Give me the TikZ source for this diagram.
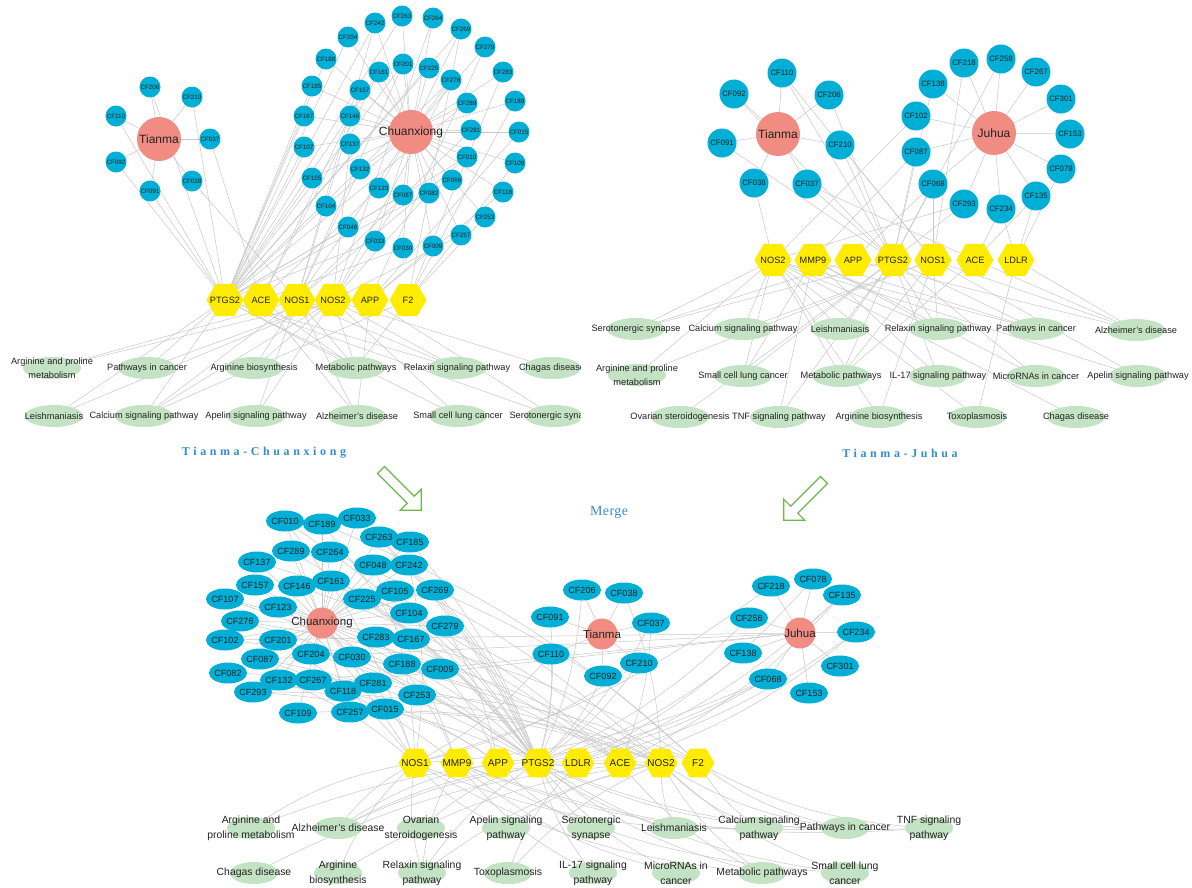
\documentclass[tikz,border=0pt]{standalone}
\usepackage{fontspec}
\setmainfont{Liberation Sans}
\newfontfamily\titlefont[LetterSpace=30]{Liberation Serif}
\newfontfamily\mergefont[LetterSpace=3]{Liberation Serif}
\usetikzlibrary{shapes.geometric}
\pgfdeclarelayer{bg}
\pgfdeclarelayer{edges}
\pgfsetlayers{bg,edges,main}
\definecolor{cfblue}{RGB}{0,174,214}
\definecolor{herbc}{RGB}{240,140,130}
\definecolor{hexy}{RGB}{255,236,0}
\definecolor{pathg}{RGB}{196,227,196}
\definecolor{edgeg}{RGB}{200,200,200}
\definecolor{titleb}{RGB}{55,140,205}
\definecolor{arrowg}{RGB}{105,185,75}
\definecolor{txt}{RGB}{35,35,35}
\begin{document}
\begin{tikzpicture}[x=1pt,y=-1pt,
  edge/.style={edgeg,line width=0.5pt},
  cfa/.style={circle,fill=cfblue,minimum size=21pt,inner sep=0pt,text=txt,font=\fontsize{6.3}{7}\selectfont},
  cfb/.style={circle,fill=cfblue,minimum size=29pt,inner sep=0pt,text=txt,font=\fontsize{7.8}{9}\selectfont},
  cfc/.style={ellipse,fill=cfblue,minimum width=32pt,minimum height=21pt,inner sep=0pt,text=txt,font=\fontsize{9}{10}\selectfont},
  herbA/.style={circle,fill=herbc,minimum size=44pt,inner sep=0pt,
    label={[text=txt,font=\fontsize{12}{13}\selectfont]center:#1}},
  herbC/.style={circle,fill=herbc,minimum size=31pt,inner sep=0pt,
    label={[text=txt,font=\fontsize{11.5}{13}\selectfont]center:#1}},
  hexA/.style={regular polygon,regular polygon sides=6,fill=hexy,minimum size=37pt,inner sep=0pt,
    label={[text=txt,font=\fontsize{9.2}{10}\selectfont]center:#1}},
  hexC/.style={regular polygon,regular polygon sides=6,fill=hexy,minimum size=33pt,inner sep=0pt,
    label={[text=txt,font=\fontsize{10}{11}\selectfont]center:#1}},
  pwA/.style={ellipse,fill=pathg,minimum width=58pt,minimum height=22pt,inner sep=0pt,
    label={[text=txt,align=center,font=\fontsize{9.2}{13.5}\selectfont]center:#1}},
  pwC/.style={ellipse,fill=pathg,minimum width=48pt,minimum height=22pt,inner sep=0pt,
    label={[text=txt,align=center,font=\fontsize{10.4}{15}\selectfont]center:#1}},
  ttl/.style={text=titleb,font=\titlefont\bfseries\fontsize{12}{14}\selectfont},
  blockarrow/.style={draw=arrowg,line width=1.2pt,fill=white,line join=miter}
]
\begin{pgfonlayer}{bg}
\fill[white] (0,0) rectangle (1192,887);
\end{pgfonlayer}
\useasboundingbox (0,0) rectangle (1192,887);

%% ================= TOP LEFT: Tianma-Chuanxiong =================
\node[herbA=Tianma] (aTianma) at (159,139) {};
\foreach \n/\x/\y in {206/150/87, 210/192/97, 110/116/116, 037/210/139, 092/116/162, 038/192/181, 091/150/191}
  \node[cfa] (aCF\n) at (\x,\y) {CF\n};
\node[herbA=Chuanxiong] (aChuan) at (411,132) {};
\foreach \n/\x/\y in {242/375/23, 263/402/16, 264/433/18, 269/461/29, 204/348/37, 279/485/47, 188/326/59, 201/403/64, 225/429/68, 161/379/72, 283/503/72, 276/451/80, 185/312/86, 157/360/90, 289/467/103, 189/515/101, 167/304/116, 146/350/116, 281/471/130, 015/519/132, 107/304/147, 137/350/144, 010/467/157, 109/515/163, 132/360/169, 105/312/178, 068/452/180, 123/379/188, 082/429/193, 087/403/195, 118/503/192, 104/326/206, 253/485/217, 048/348/227, 257/461/235, 033/375/241, 030/403/248, 009/433/246}
  \node[cfa] (aCF\n) at (\x,\y) {CF\n};
\foreach \h/\x in {PTGS2/225, ACE/261, NOS1/297, NOS2/333, APP/370, F2/408}
  \node[hexA=\h] (a\h) at (\x,300) {};
\begin{scope}
\clip (0,330) rectangle (580,440);
\node[pwA={Arginine and proline\\metabolism}] (aArg) at (52,368) {};
\node[pwA=Pathways in cancer] (aPic) at (147,368) {};
\node[pwA=Arginine biosynthesis] (aAbio) at (254,368) {};
\node[pwA=Metabolic pathways] (aMet) at (356,368) {};
\node[pwA=Relaxin signaling pathway] (aRel) at (457,368) {};
\node[pwA=Chagas disease] (aCha) at (552,368) {};
\node[pwA=Leishmaniasis] (aLei) at (54,416) {};
\node[pwA=Calcium signaling pathway] (aCal) at (144,416) {};
\node[pwA=Apelin signaling pathway] (aApe) at (256,416) {};
\node[pwA=Alzheimer's disease] (aAlz) at (357,416) {};
\node[pwA=Small cell lung cancer] (aScl) at (458,416) {};
\node[pwA=Serotonergic synapse] (aSer) at (554,416) {};
\end{scope}
\node[ttl] (t1) at (264,453) {Tianma-Chuanxiong};

%% ================= TOP RIGHT: Tianma-Juhua =================
\node[herbA=Tianma] (bTianma) at (778,134) {};
\foreach \n/\x/\y in {110/782/73, 092/734/94, 206/829/95, 091/722/143, 210/840/145, 038/754/183, 037/807/184}
  \node[cfb] (bCF\n) at (\x,\y) {CF\n};
\node[herbA=Juhua] (bJuhua) at (994,133) {};
\foreach \n/\x/\y in {218/964/63, 258/1001/59, 267/1036/72, 301/1061/99, 153/1070/134, 078/1061/169, 135/1036/196, 234/1001/209, 293/964/204, 068/933/184, 087/916/152, 102/916/116, 138/933/84}
  \node[cfb] (bCF\n) at (\x,\y) {CF\n};
\foreach \h/\x in {NOS2/773, MMP9/813, APP/853, PTGS2/893, NOS1/933, ACE/975, LDLR/1016}
  \node[hexA=\h] (b\h) at (\x,260) {};
\node[pwA=Serotonergic synapse] (bSer) at (636,329) {};
\node[pwA=Calcium signaling pathway] (bCal) at (743,329) {};
\node[pwA=Leishmaniasis] (bLei) at (840,329) {};
\node[pwA=Relaxin signaling pathway] (bRel) at (938,329) {};
\node[pwA=Pathways in cancer] (bPic) at (1036,329) {};
\node[pwA=Alzheimer's disease] (bAlz) at (1136,330) {};
\node[pwA={Arginine and proline\\metabolism}] (bArg) at (637,375) {};
\node[pwA=Small cell lung cancer] (bScl) at (743,376) {};
\node[pwA=Metabolic pathways] (bMet) at (841,376) {};
\node[pwA=IL-17 signaling pathway] (bIL) at (938,376) {};
\node[pwA=MicroRNAs in cancer] (bMir) at (1036,376) {};
\node[pwA=Apelin signaling pathway] (bApe) at (1138,376) {};
\node[pwA=Ovarian steroidogenesis] (bOva) at (680,417) {};
\node[pwA=TNF signaling pathway] (bTnf) at (779,417) {};
\node[pwA=Arginine biosynthesis] (bAbio) at (879,417) {};
\node[pwA=Toxoplasmosis] (bTox) at (977,417) {};
\node[pwA=Chagas disease] (bCha) at (1076,417) {};
\node[ttl] (t2) at (900,453) {Tianma-Juhua};

%% ================= ARROWS + MERGE =================
\draw[blockarrow] (377.5,473.5) -- (407.2,503.2) -- (400.1,510.3) -- (421.3,510.3) -- (421.3,489.1) -- (414.2,496.2) -- (384.5,466.5) -- cycle;
\draw[blockarrow] (827.5,483.5) -- (797.8,513.2) -- (804.9,520.3) -- (783.7,520.3) -- (783.7,499.1) -- (790.8,506.2) -- (820.5,476.5) -- cycle;
\node[text=titleb,font=\mergefont\fontsize{14}{16}\selectfont] (merge) at (609,512) {Merge};

%% ================= BOTTOM: merged =================
\node[herbC=Chuanxiong] (cChuan) at (322,623) {};
\foreach \n/\x/\y in {010/285/521, 189/322/524, 033/357/518, 263/379/537, 185/410/542, 289/291/551, 264/330/552, 137/257/562, 048/373/565, 242/409/565, 157/255/585, 146/297/586, 161/331/581, 105/395/591, 269/435/590, 107/225/599, 123/278/607, 225/362/599, 104/409/613, 276/240/621, 279/445/626, 102/225/640, 201/278/640, 283/376/637, 167/411/639, 087/260/659, 204/311/654, 030/352/657, 188/402/664, 009/440/669, 082/228/673, 132/279/680, 267/313/680, 118/343/691, 281/373/683, 253/417/695, 293/253/692, 015/385/709, 109/298/713, 257/350/712}
  \node[cfc] (cCF\n) at (\x,\y) {CF\n};
\node[herbC=Tianma] (cTianma) at (602,634) {};
\foreach \n/\x/\y in {206/582/590, 038/624/593, 091/550/617, 037/651/623, 110/551/654, 210/639/663, 092/603/676}
  \node[cfc] (cCF\n) at (\x,\y) {CF\n};
\node[herbC=Juhua] (cJuhua) at (800,633) {};
\foreach \n/\x/\y in {218/771/586, 078/813/579, 135/842/595, 258/749/618, 234/856/632, 138/743/653, 301/840/666, 068/768/679, 153/809/693}
  \node[cfc] (cCF\n) at (\x,\y) {CF\n};
\foreach \h/\x in {NOS1/415, MMP9/457, APP/498, PTGS2/538, LDLR/578, ACE/620, NOS2/661, F2/698}
  \node[hexC=\h] (c\h) at (\x,763) {};
\node[pwC={Arginine and\\proline metabolism}] (cArg) at (251,828) {};
\node[pwC=Alzheimer's disease] (cAlz) at (338,828) {};
\node[pwC={Ovarian\\steroidogenesis}] (cOva) at (421,828) {};
\node[pwC={Apelin signaling\\pathway}] (cApe) at (506,828) {};
\node[pwC={Serotonergic\\synapse}] (cSer) at (591,828) {};
\node[pwC=Leishmaniasis] (cLei) at (674,828) {};
\node[pwC={Calcium signaling\\pathway}] (cCal) at (759,828) {};
\node[pwC=Pathways in cancer] (cPic) at (845,828) {};
\node[pwC={TNF signaling\\pathway}] (cTnf) at (929,828) {};
\node[pwC=Chagas disease] (cCha) at (254,873) {};
\node[pwC={Arginine\\biosynthesis}] (cAbio) at (338,873) {};
\node[pwC={Relaxin signaling\\pathway}] (cRel) at (422,873) {};
\node[pwC=Toxoplasmosis] (cTox) at (508,873) {};
\node[pwC={IL-17 signaling\\pathway}] (cIL) at (593,873) {};
\node[pwC={MicroRNAs in\\cancer}] (cMir) at (676,873) {};
\node[pwC=Metabolic pathways] (cMet) at (762,873) {};
\node[pwC={Small cell lung\\cancer}] (cScl) at (845,873) {};

%% ================= EDGES =================
\begin{pgfonlayer}{edges}
% top left
\foreach \n in {206,210,110,037,092,038,091} \draw[edge] (aTianma.center) -- (aCF\n.center);
\foreach \n in {242,263,264,269,204,279,188,201,225,161,283,276,185,157,289,189,167,146,281,015,107,137,010,109,132,105,068,123,082,087,118,104,253,048,257,033,030,009}
  \draw[edge] (aChuan.center) -- (aCF\n.center);
\foreach \h/\ls in {PTGS2/{206,110,092,091,210,242,263,269,204,188,225,185,289,167,107,010,105,068,087,104,033,201,161,276}, ACE/{037,161,146,123,030}, NOS1/{038,242,201,157,281,132,048,010}, NOS2/{264,276,137,082,257,087}, APP/{279,015,118,009}, F2/{269,283,189,109,253}}
  {\foreach \n in \ls {\draw[edge] (aCF\n.center) -- (a\h.center);}}
\foreach \h/\ls in {PTGS2/{Pic,Lei,Scl,Ser,Met,Rel,Cal}, ACE/{Alz,Met}, NOS1/{Arg,Abio,Met,Cal,Ape,Alz,Rel}, NOS2/{Arg,Abio,Met,Lei,Cha,Ape,Rel,Cal,Pic,Scl}, APP/{Alz,Ser}, F2/{Cal,Met}}
  {\foreach \p in \ls {\draw[edge] (a\h.center) -- (a\p.center);}}
% top right
\foreach \n in {110,092,206,091,210,038,037} \draw[edge] (bTianma.center) -- (bCF\n.center);
\foreach \n in {218,258,267,301,153,078,135,234,293,068,087,102,138} \draw[edge] (bJuhua.center) -- (bCF\n.center);
\foreach \h/\ls in {PTGS2/{092,110,206,091,210,037,087,068,293,138,258}, NOS1/{110,210,068,218}, NOS2/{038,102,293}, MMP9/{087}, APP/{068}, ACE/{037,234,135}, LDLR/{234,135,078}}
  {\foreach \n in \ls {\draw[edge] (bCF\n.center) -- (b\h.center);}}
\foreach \h/\ls in {NOS2/{Ser,Arg,Scl,Lei,Met,Abio,Cha,Tox,Rel,Cal,Ape,Pic}, MMP9/{Rel,Pic,Mir,IL,Tnf,Scl}, APP/{Alz,Ser}, PTGS2/{Ser,Pic,Scl,Lei,IL,Tnf,Met,Ova,Mir,Rel}, NOS1/{Arg,Abio,Met,Cal,Ape,Alz,Rel}, ACE/{Alz,Met}, LDLR/{Tox,Alz}}
  {\foreach \p in \ls {\draw[edge] (b\h.center) -- (b\p.center);}}
% bottom
\foreach \n in {010,189,033,263,185,289,264,137,048,242,157,146,161,105,269,107,123,225,104,276,279,102,201,283,167,087,204,030,188,009,082,132,267,118,281,253,293,015,109,257}
  \draw[edge] (cChuan.center) -- (cCF\n.center);
\foreach \n in {206,038,091,037,110,210,092} \draw[edge] (cTianma.center) -- (cCF\n.center);
\foreach \n in {218,078,135,258,234,138,301,068,153,267,293,087,102} \draw[edge] (cJuhua.center) -- (cCF\n.center);
\foreach \h/\ls in {PTGS2/{242,263,269,204,188,225,185,289,167,107,010,105,104,033,201,161,276,087,293,092,110,206,091,210,037,068,138,258}, ACE/{161,146,123,030,037,234,135}, NOS1/{242,201,157,281,132,048,010,110,210,068,218}, NOS2/{264,276,137,082,257,102,293,038}, MMP9/{087,189,283}, APP/{279,015,118,009,068}, LDLR/{234,135,078}, F2/{269,283,189,109,253}}
  {\foreach \n in \ls {\draw[edge] (cCF\n.center) to[bend left=10] (c\h.center);}}
\foreach \h/\ls in {NOS1/{Arg,Abio,Met,Cal,Ape,Alz,Rel}, MMP9/{Rel,Pic,Mir,IL,Tnf,Scl}, APP/{Alz,Ser}, PTGS2/{Ser,Pic,Scl,Lei,IL,Tnf,Met,Ova,Mir,Rel}, LDLR/{Tox,Alz}, ACE/{Alz,Met}, NOS2/{Arg,Scl,Lei,Met,Abio,Cha,Tox,Rel,Cal,Ape,Pic}, F2/{Cal,Pic,Tnf}}
  {\foreach \p in \ls {\draw[edge] (c\h.center) to[bend right=12] (c\p.center);}}
\end{pgfonlayer}
\end{tikzpicture}
\end{document}
